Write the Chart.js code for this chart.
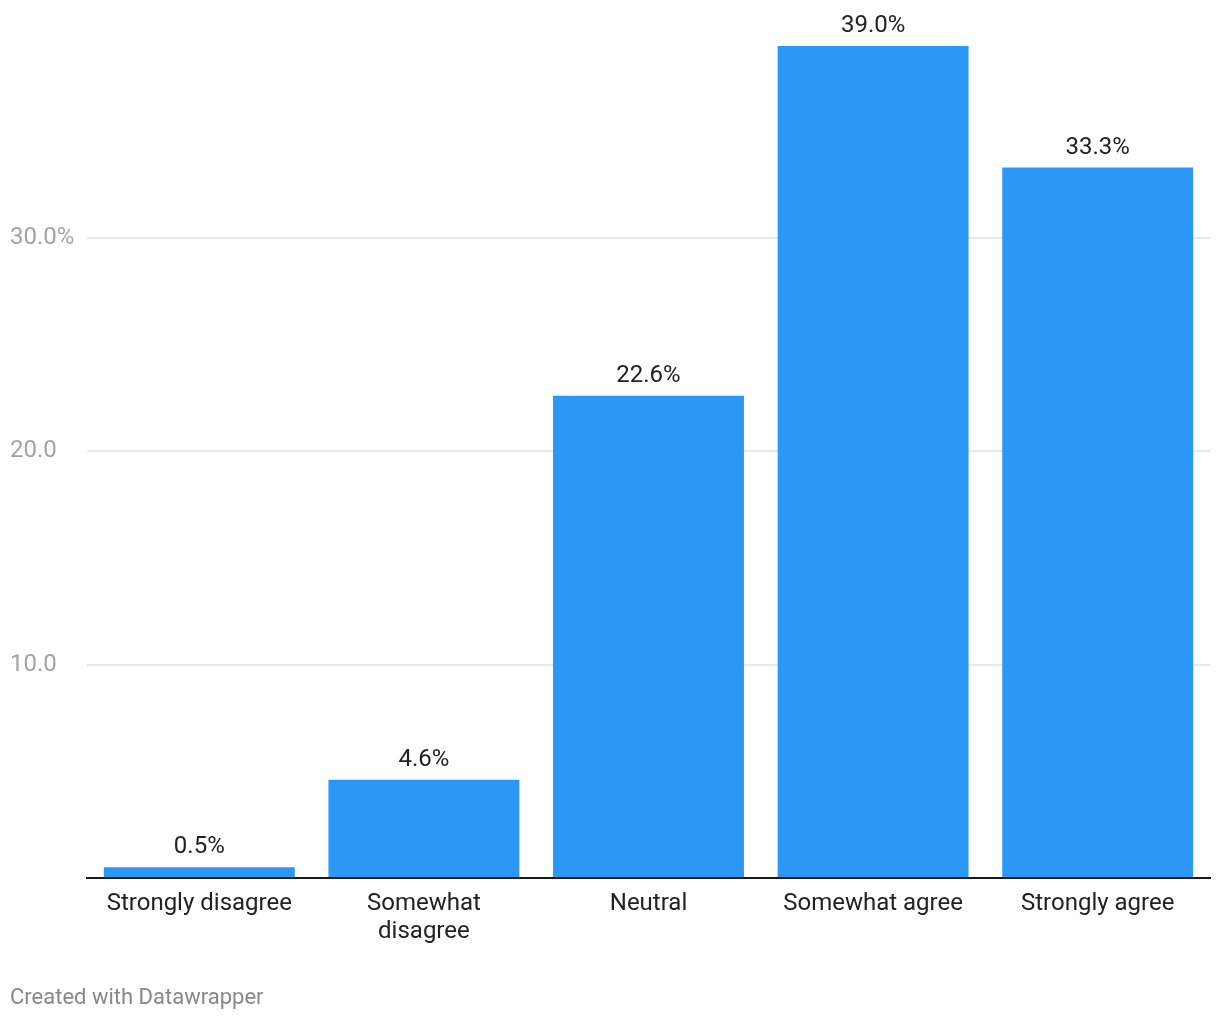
<!DOCTYPE html>
<html>
<head>
<meta charset="utf-8">
<script src="https://cdn.jsdelivr.net/npm/chart.js@4"></script>
<style>
  html, body { margin: 0; padding: 0; background: #fff; }
  #wrap { position: relative; width: 1220px; height: 1020px; }
  #footer {
    position: absolute; left: 10px; top: 983px;
    font-family: Roboto, sans-serif; font-size: 22px; line-height: 28px; color: #888;
  }
</style>
</head>
<body>
<div id="wrap">
  <canvas id="chart" width="1220" height="1020"></canvas>
  <div id="footer">Created with Datawrapper</div>
</div>
<script>
// Data
const categories = ['Strongly disagree', ['Somewhat', 'disagree'], 'Neutral', 'Somewhat agree', 'Strongly agree'];
const shares = [0.5, 4.6, 22.6, 39.0, 33.3];
const yTicks = [0, 10, 20, 30];

// ── Value labels above bars ──────────────────────────────────
const valueLabels = {
  id: 'valueLabels',
  afterDatasetsDraw(chart) {
    const ctx = chart.ctx;
    const meta = chart.getDatasetMeta(0);
    ctx.save();
    ctx.font = '24px Roboto, sans-serif';
    ctx.fillStyle = '#222';
    ctx.textAlign = 'center';
    ctx.textBaseline = 'alphabetic';
    meta.data.forEach((bar, i) => {
      ctx.fillText(shares[i].toFixed(1) + '%', bar.x, bar.y - 14);
    });
    ctx.restore();
  }
};

// ── Chart ────────────────────────────────────────────────────
new Chart(document.getElementById('chart').getContext('2d'), {
  type: 'bar',
  data: {
    labels: categories,
    datasets: [{
      data: shares,
      backgroundColor: '#2b98f7',
      borderWidth: 0,
      categoryPercentage: 1,
      barPercentage: 0.85
    }]
  },
  options: {
    responsive: false,
    animation: false,
    layout: { padding: { top: 24.67, left: 10, right: 10, bottom: 0 } },
    plugins: { legend: { display: false }, tooltip: { enabled: false } },
    scales: {
      x: {
        afterFit: s => { s.height = 142; },
        grid: { display: false, drawTicks: false },
        border: { display: true, color: '#1a1a1a', width: 2 },
        ticks: {
          color: '#222',
          padding: 12,
          maxRotation: 0,
          autoSkip: false,
          font: { family: 'Roboto', size: 24, lineHeight: 1.17 }
        }
      },
      y: {
        min: 0,
        max: 40,
        afterFit: s => { s.width = 77; },
        afterBuildTicks: s => { s.ticks = yTicks.map(v => ({ value: v })); },
        grid: {
          drawTicks: false,
          lineWidth: 2,
          color: c => (c.tick && c.tick.value === 0) ? 'rgba(0,0,0,0)' : '#e8e8e8'
        },
        border: { display: false },
        ticks: {
          crossAlign: 'far',
          color: '#a3a3a3',
          font: { family: 'Roboto', size: 24 },
          callback: v => v === 0 ? '' : (v === 30 ? '30.0%' : v.toFixed(1))
        }
      }
    }
  },
  plugins: [valueLabels]
});
</script>
</body>
</html>
